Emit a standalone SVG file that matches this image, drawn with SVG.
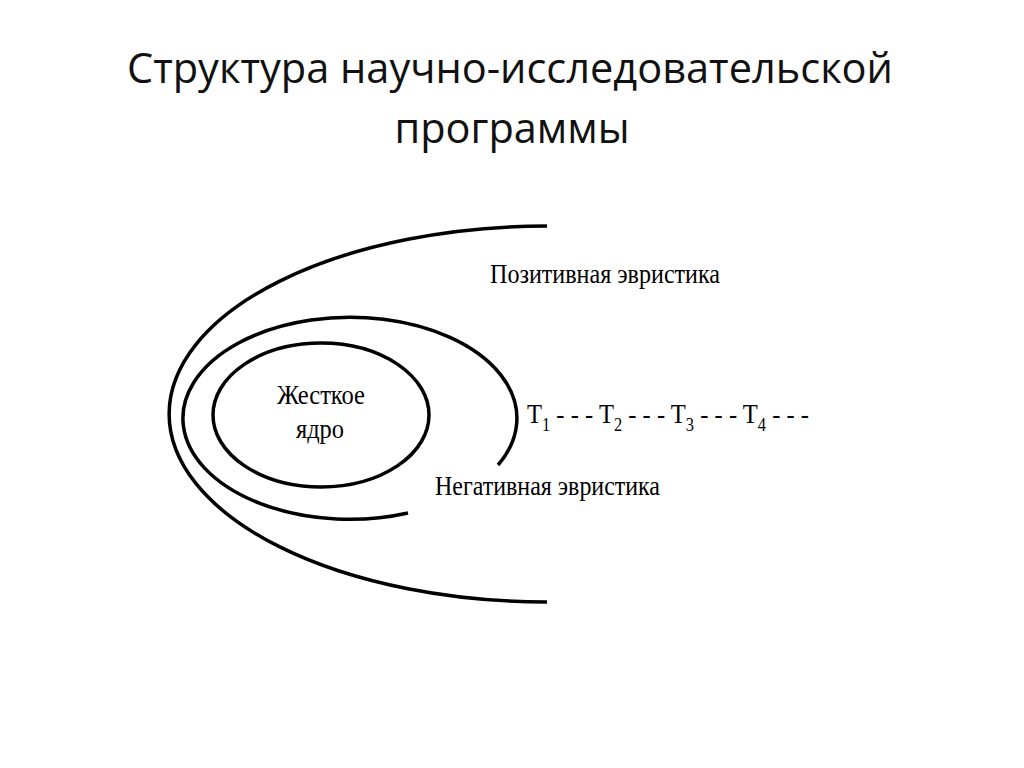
<svg xmlns="http://www.w3.org/2000/svg" width="1024" height="768" viewBox="0 0 1024 768">
<style>
.curve{fill:none;stroke:#000;stroke-width:3.5}
.title{font-family:"Open Sans","Noto Sans","Liberation Sans",sans-serif;font-size:42px;fill:#111}
.lbl{font-family:"Liberation Serif","DejaVu Serif",serif;font-size:27px;fill:#000}
.sub{font-size:18px}
</style>
<rect width="1024" height="768" fill="#fff"/>
<g id="title">
<text class="title" x="510" y="83" text-anchor="middle" textLength="766" lengthAdjust="spacingAndGlyphs">Структура научно-исследовательской</text>
<text class="title" x="512" y="143" text-anchor="middle" textLength="235" lengthAdjust="spacingAndGlyphs">программы</text>
</g>
<g id="connectors"></g>
<g id="positive-heuristic">
<path class="curve" d="M547,226 A378,188 0 0 0 547,602"/>
<text class="lbl" x="490" y="283" textLength="230" lengthAdjust="spacingAndGlyphs">Позитивная эвристика</text>
</g>
<g id="negative-heuristic">
<path class="curve" d="M408,513 A167,101 0 1 1 498,465"/>
<text class="lbl" x="435" y="495" textLength="225" lengthAdjust="spacingAndGlyphs">Негативная эвристика</text>
</g>
<g id="hard-core">
<ellipse class="curve" cx="321" cy="415" rx="108" ry="72"/>
<text class="lbl" x="321" y="404" text-anchor="middle" textLength="88" lengthAdjust="spacingAndGlyphs">Жесткое</text>
<text class="lbl" x="320" y="438" text-anchor="middle" textLength="48" lengthAdjust="spacingAndGlyphs">ядро</text>
</g>
<g id="theories">
<text class="lbl" x="527" y="423" textLength="282" lengthAdjust="spacingAndGlyphs">T<tspan class="sub" dy="8">1</tspan><tspan dy="-8"> - - - T</tspan><tspan class="sub" dy="8">2</tspan><tspan dy="-8"> - - - T</tspan><tspan class="sub" dy="8">3</tspan><tspan dy="-8"> - - - T</tspan><tspan class="sub" dy="8">4</tspan><tspan dy="-8"> - - -</tspan></text>
</g>
</svg>
